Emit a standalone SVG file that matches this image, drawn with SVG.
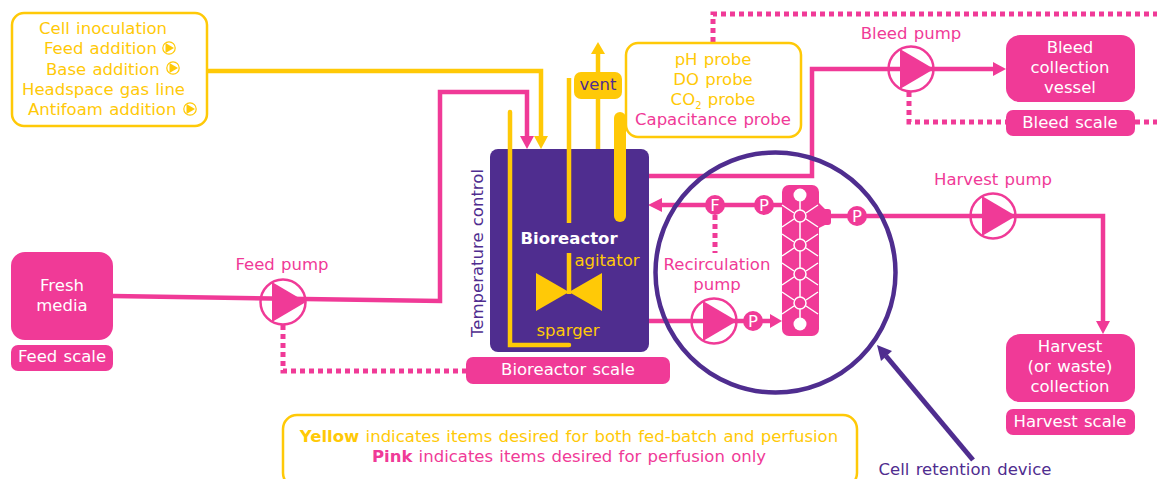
<svg xmlns="http://www.w3.org/2000/svg" xmlns:xlink="http://www.w3.org/1999/xlink" width="1157" height="479" viewBox="0 0 1157 479">
<style>
text{font-family:"DejaVu Sans","Verdana",sans-serif;font-size:16.5px;word-spacing:1px;text-anchor:middle}
.w{fill:#fff}.p{fill:#F03A97}.y{fill:#FFC907}.v{fill:#4F2D8F}
.ln{fill:none;stroke-linejoin:miter}
.pl{stroke:#F03A97;stroke-width:4.5}
.yl{stroke:#FFC907;stroke-width:4.5}
.dot{fill:none;stroke:#F03A97;stroke-width:5;stroke-dasharray:5 4}
.box{fill:#fff;stroke:#FFC907;stroke-width:2.5}
.fl{stroke:#fff;stroke-width:1.5;fill:none}
.start{text-anchor:start}
</style>
<defs>
<g id="pump"><circle r="22.5" fill="none" stroke="#F03A97" stroke-width="2.5"/><path d="M-11-20V20L23 0Z" fill="#F03A97"/></g>
<g id="play"><circle r="6.2" fill="#fff" stroke="#FFC907" stroke-width="1.2"/><path d="M-3.5-5V5L5 0Z" fill="#FFC907"/></g>
<g id="node"><circle r="6" fill="#F03A97" stroke="#fff" stroke-width="1.5"/><path class="fl" d="M-6-3-18-11M6-3 18-11M-6 3-18 11M6 3 18 11"/></g>
</defs>
<g id="connectors">
<path class="ln yl" d="M207 71H541V136"/>
<path class="y" d="M534 136H548L541 149Z"/>
<path class="ln pl" d="M113 296 440 301V92H527V136"/>
<path class="p" d="M520 136H534L527 149Z"/>
<path class="ln yl" d="M598 149V52"/>
<path class="y" d="M591 54H605L598 42Z"/>
<path class="dot" d="M713 42V14H1157"/>
<path class="dot" d="M1135 122H1157"/>
<path class="ln pl" d="M649 176H812V69H994"/>
<path class="p" d="M993 62V76L1006 69Z"/>
<path class="dot" d="M909 92V122H1006"/>
<path class="ln pl" d="M830 216H1103V322"/>
<path class="p" d="M1096 321H1110L1103 334Z"/>
<path class="dot" d="M283 325V371H466"/>
<path class="ln pl" d="M660 205H782"/>
<path class="p" d="M662 198V212L648 205Z"/>
<path class="dot" d="M715 215V253"/>
<path class="ln pl" d="M649 321H772"/>
<path class="p" d="M770 314V328L782 321Z"/>
<path class="ln" stroke="#4F2D8F" stroke-width="5" d="M973 460 886 356"/>
<path class="v" d="M877 345 892 351 881 361Z"/>
</g>
<g id="inputs-box">
<rect class="box" x="12" y="13" width="195" height="113" rx="12"/>
<text class="y start" x="39" y="34">Cell inoculation</text>
<text class="y start" x="44" y="54">Feed addition</text>
<text class="y start" x="46" y="75">Base addition</text>
<text class="y start" x="22" y="95">Headspace gas line</text>
<text class="y start" x="28" y="115">Antifoam addition</text>
<use xlink:href="#play" href="#play" x="169" y="48"/>
<use xlink:href="#play" href="#play" x="173" y="68"/>
<use xlink:href="#play" href="#play" x="190" y="109"/>
</g>
<g id="fresh-media">
<rect class="p" x="11" y="252" width="102" height="88" rx="14"/>
<text class="w" x="62" y="291">Fresh</text>
<text class="w" x="62" y="311">media</text>
</g>
<g id="feed-scale">
<rect class="p" x="11" y="345" width="102" height="26" rx="7"/>
<text class="w" x="62" y="362">Feed scale</text>
</g>
<g id="feed-pump">
<use xlink:href="#pump" href="#pump" x="283" y="302"/>
<text class="p" x="282" y="270">Feed pump</text>
</g>
<g id="bioreactor">
<rect class="v" x="490" y="149" width="159" height="203" rx="8"/>
<path class="ln yl" stroke-linecap="round" d="M510 112V345H569"/>
<path class="ln yl" d="M569 78V223M569 253V294"/>
<path fill="none" stroke="#FFC907" stroke-width="12" stroke-linecap="round" d="M620 118V216"/>
<path class="y" d="M536 273 569 292 602 273V311L569 292 536 311Z"/>
<text class="w" x="569" y="244" style="font-weight:bold">Bioreactor</text>
<text class="y" x="607" y="266">agitator</text>
<text class="y" x="568" y="336">sparger</text>
<text class="v" transform="translate(483 253) rotate(-90)">Temperature control</text>
</g>
<g id="vent">
<rect class="y" x="574" y="72" width="48" height="27" rx="7"/>
<text class="v" x="598" y="90">vent</text>
</g>
<g id="probes">
<rect class="box" x="626" y="43" width="175" height="94" rx="12"/>
<text class="y" x="713" y="65">pH probe</text>
<text class="y" x="713" y="85">DO probe</text>
<text class="y" x="713" y="105">CO<tspan font-size="10" dy="4">2</tspan><tspan dy="-4"> probe</tspan></text>
<text class="p" x="713" y="125">Capacitance probe</text>
</g>
<g id="bioreactor-scale">
<rect class="p" x="466" y="357" width="204" height="27" rx="7"/>
<text class="w" x="568" y="375">Bioreactor scale</text>
</g>
<g id="cell-retention-device">
<circle cx="775.5" cy="272.5" r="120" fill="none" stroke="#4F2D8F" stroke-width="4.5"/>
<path class="p" d="M819 203 825 209H828Q831 209 831 212V222Q831 225 828 225H825L819 228Z"/>
<rect class="p" x="782" y="185" width="37" height="151" rx="7"/>
<path class="fl" d="M800 196V324"/>
<use xlink:href="#node" href="#node" x="800" y="216"/>
<use xlink:href="#node" href="#node" x="800" y="245"/>
<use xlink:href="#node" href="#node" x="800" y="274"/>
<use xlink:href="#node" href="#node" x="800" y="303"/>
<circle class="w" cx="800" cy="195" r="6.5"/>
<circle class="w" cx="800" cy="324" r="6.5"/>
<text class="v" x="965" y="475">Cell retention device</text>
</g>
<g id="sensor-f"><circle class="p" cx="715" cy="205" r="10"/><text class="w" x="715" y="211">F</text></g>
<g id="sensor-p1"><circle class="p" cx="764" cy="205" r="10"/><text class="w" x="764" y="211">P</text></g>
<g id="sensor-p2"><circle class="p" cx="753" cy="321" r="10"/><text class="w" x="753" y="327">P</text></g>
<g id="sensor-p3"><circle class="p" cx="857" cy="216" r="10"/><text class="w" x="857" y="222">P</text></g>
<g id="recirculation-pump">
<use xlink:href="#pump" href="#pump" x="714" y="321"/>
<text class="p" x="717" y="270">Recirculation</text>
<text class="p" x="717" y="290">pump</text>
</g>
<g id="bleed-pump">
<use xlink:href="#pump" href="#pump" x="911" y="69"/>
<text class="p" x="911" y="39">Bleed pump</text>
</g>
<g id="bleed-vessel">
<rect class="p" x="1006" y="35" width="129" height="67" rx="14"/>
<text class="w" x="1070" y="53">Bleed</text>
<text class="w" x="1070" y="73">collection</text>
<text class="w" x="1070" y="93">vessel</text>
</g>
<g id="bleed-scale">
<rect class="p" x="1006" y="110" width="129" height="26" rx="7"/>
<text class="w" x="1070" y="128">Bleed scale</text>
</g>
<g id="harvest-pump">
<use xlink:href="#pump" href="#pump" x="993" y="216"/>
<text class="p" x="993" y="185">Harvest pump</text>
</g>
<g id="harvest-collection">
<rect class="p" x="1006" y="334" width="129" height="68" rx="14"/>
<text class="w" x="1070" y="352">Harvest</text>
<text class="w" x="1070" y="372">(or waste)</text>
<text class="w" x="1070" y="392">collection</text>
</g>
<g id="harvest-scale">
<rect class="p" x="1006" y="409" width="129" height="26" rx="7"/>
<text class="w" x="1070" y="427">Harvest scale</text>
</g>
<g id="legend">
<rect class="box" x="283" y="415" width="574" height="72" rx="14"/>
<text class="y" x="569" y="442"><tspan style="font-weight:bold">Yellow</tspan> indicates items desired for both fed-batch and perfusion</text>
<text class="p" x="569" y="462"><tspan style="font-weight:bold">Pink</tspan> indicates items desired for perfusion only</text>
</g>
</svg>
